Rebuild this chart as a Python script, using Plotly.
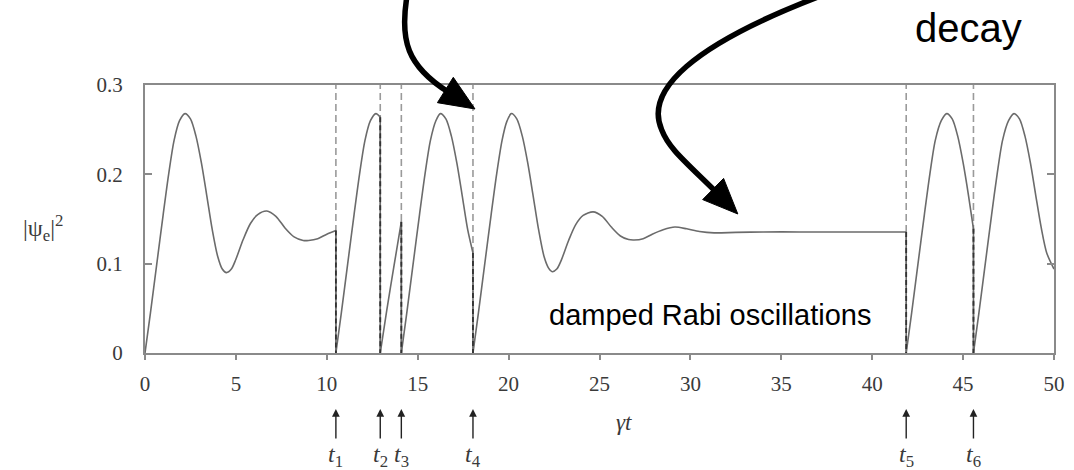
import plotly.graph_objects as go

# ---------------- data ----------------
jump_times = [10.5, 12.94, 14.1, 18.04, 41.87, 45.57]
jump_subs = ["1", "2", "3", "4", "5", "6"]

seg1_x = [0, 0.3, 0.65, 1.0, 1.3, 1.6, 1.9, 2.2, 2.5, 2.8, 3.1, 3.4, 3.7, 4.0, 4.25, 4.48, 4.75, 5.0,
          5.4, 5.8, 6.2, 6.7, 7.2, 7.7, 8.2, 8.7, 9.0, 9.5, 10.0, 10.5]
seg1_y = [0, 0.045, 0.100, 0.155, 0.200, 0.238, 0.260, 0.268, 0.262, 0.243, 0.213, 0.176, 0.138, 0.108,
          0.094, 0.090, 0.094, 0.105, 0.127, 0.145, 0.155, 0.159, 0.153, 0.140, 0.130, 0.126, 0.126,
          0.128, 0.133, 0.137]

seg2_x = [10.5, 10.8, 11.15, 11.5, 11.8, 12.1, 12.4, 12.7, 12.94]
seg2_y = [0, 0.045, 0.100, 0.155, 0.200, 0.238, 0.260, 0.268, 0.264]

seg3_x = [12.94, 13.3, 13.7, 14.1]
seg3_y = [0, 0.048, 0.098, 0.147]

seg4_x = [14.1, 14.4, 14.75, 15.1, 15.4, 15.7, 16.0, 16.25, 16.55, 16.85, 17.15, 17.45, 17.75, 18.04]
seg4_y = [0, 0.045, 0.100, 0.155, 0.200, 0.238, 0.260, 0.268, 0.262, 0.243, 0.213, 0.176, 0.138, 0.112]

seg5_x = [18.04, 18.34, 18.69, 19.04, 19.34, 19.64, 19.9, 20.15, 20.45, 20.75, 21.05, 21.35, 21.65,
          21.95, 22.2, 22.4, 22.65, 22.9, 23.3, 23.7, 24.1, 24.65, 25.15, 25.65, 26.15, 26.6, 26.9,
          27.4, 27.9, 28.5, 29.15, 29.8, 30.5, 31.3, 32.5, 34, 36, 38, 40, 41.87]
seg5_y = [0, 0.045, 0.100, 0.155, 0.200, 0.238, 0.259, 0.268, 0.262, 0.243, 0.213, 0.176, 0.138,
          0.108, 0.095, 0.091, 0.094, 0.104, 0.126, 0.144, 0.154, 0.158, 0.153, 0.141, 0.131, 0.127,
          0.1265, 0.128, 0.133, 0.138, 0.141, 0.139, 0.136, 0.1345, 0.135, 0.1355, 0.1355, 0.1355,
          0.1355, 0.1355]

seg6_x = [41.87, 42.17, 42.52, 42.87, 43.17, 43.47, 43.8, 44.1, 44.4, 44.7, 45.0, 45.3, 45.57]
seg6_y = [0, 0.045, 0.100, 0.155, 0.200, 0.238, 0.260, 0.268, 0.262, 0.243, 0.213, 0.176, 0.139]

seg7_x = [45.57, 45.87, 46.22, 46.57, 46.87, 47.17, 47.5, 47.8, 48.1, 48.4, 48.7, 49.0, 49.3, 49.6, 50]
seg7_y = [0, 0.045, 0.100, 0.155, 0.200, 0.238, 0.260, 0.268, 0.262, 0.243, 0.213, 0.176, 0.140,
          0.112, 0.094]

segments = [(seg1_x, seg1_y), (seg2_x, seg2_y), (seg3_x, seg3_y), (seg4_x, seg4_y),
            (seg5_x, seg5_y), (seg6_x, seg6_y), (seg7_x, seg7_y)]

x_ticks = [0, 5, 10, 15, 20, 25, 30, 35, 40, 45, 50]
y_ticks = [0, 0.1, 0.2, 0.3]
y_ticktext = ["0", "0.1", "0.2", "0.3"]

# ---------------- layout geometry ----------------
W, H = 1074, 470
PL, PR, PT, PB = 145, 1065, 85, 353


def px(x):
    return (x - PL) / (PR - PL)


def py(y):
    return (PB - y) / (PB - PT)


CURVE = "#6b6b6b"
FRAME = "#8a8a8a"
TXT = "#3a3a3a"
SERIF = "Liberation Serif"
SANS = "Liberation Sans"

fig = go.Figure()

# dashed jump markers
for t in jump_times:
    fig.add_trace(go.Scatter(x=[t, t], y=[0, 0.3], mode="lines",
                             line=dict(color="#9a9a9a", width=1.6, dash="7px,4px"),
                             hoverinfo="skip"))

# curve segments
for sx, sy in segments:
    fig.add_trace(go.Scatter(x=sx, y=sy, mode="lines", line_shape="spline",
                             line=dict(color=CURVE, width=1.6, smoothing=0.8),
                             hoverinfo="skip"))

# vertical drops at the jumps (end value of preceding segment -> 0)
drop_x, drop_y = [], []
for i, t in enumerate(jump_times):
    v = segments[i][1][-1]
    drop_x += [t, t, None]
    drop_y += [v, 0, None]
fig.add_trace(go.Scatter(x=drop_x, y=drop_y, mode="lines",
                         line=dict(color=CURVE, width=1.6), hoverinfo="skip"))
fig.add_trace(go.Scatter(x=drop_x, y=drop_y, mode="lines",
                         line=dict(color="#333333", width=1.8, dash="5px,3px"), hoverinfo="skip"))

annotations = []
# small arrows and t labels below axis
for t, sub in zip(jump_times, jump_subs):
    annotations.append(dict(x=t, y=py(409), xref="x", yref="paper", text="", showarrow=True,
                            arrowhead=2, arrowsize=1.1, arrowwidth=1.4, arrowcolor="#222",
                            ax=0, ay=31, axref="pixel", ayref="pixel"))
    annotations.append(dict(x=t, y=py(456), xref="x", yref="paper",
                            text="<i>t</i><sub>" + sub + "</sub>",
                            showarrow=False, xanchor="center", yanchor="middle",
                            font=dict(family=SERIF, size=24, color=TXT)))

# axis titles
annotations.append(dict(x=px(630), y=py(422), xref="paper", yref="paper", text="<i>γt</i>",
                        showarrow=False, xanchor="center", yanchor="middle",
                        font=dict(family=SERIF, size=23, color=TXT)))
annotations.append(dict(x=px(42), y=py(228), xref="paper", yref="paper",
                        text="|ψ<sub>e</sub>|<sup>2</sup>",
                        showarrow=False, xanchor="center", yanchor="middle",
                        font=dict(family=SERIF, size=24, color=TXT)))

# text labels
annotations.append(dict(x=px(552), y=py(315), xref="paper", yref="paper",
                        text="damped Rabi oscillations", showarrow=False,
                        xanchor="left", yanchor="middle",
                        font=dict(family=SANS, size=29, color="black")))
annotations.append(dict(x=px(978), y=py(28), xref="paper", yref="paper",
                        text="decay", showarrow=False,
                        xanchor="center", yanchor="middle",
                        font=dict(family=SANS, size=40, color="black")))


# curved thick arrows (pixel-space geometry converted to paper coords)
def path_str(cmds):
    out = []
    for c in cmds:
        if isinstance(c, str):
            out.append(c)
        else:
            out.append("%.5f,%.5f" % (px(c[0]), py(c[1])))
    return " ".join(out)


def head(tip, base, half_w):
    dx, dy = tip[0] - base[0], tip[1] - base[1]
    L = (dx * dx + dy * dy) ** 0.5
    nx, ny = -dy / L, dx / L
    c1 = (base[0] + nx * half_w, base[1] + ny * half_w)
    c2 = (base[0] - nx * half_w, base[1] - ny * half_w)
    return path_str(["M", tip, "L", c1, "L", c2, "Z"])


shapes = []
shapes.append(dict(type="path", xref="paper", yref="paper",
                   path=path_str(["M", (410, -3), "C", (403, 40), (410, 66), (452, 92)]),
                   line=dict(color="black", width=5.5)))
shapes.append(dict(type="path", xref="paper", yref="paper",
                   path=head((479, 109), (449, 90), 15), fillcolor="black",
                   line=dict(color="black", width=1)))
shapes.append(dict(type="path", xref="paper", yref="paper",
                   path=path_str(["M", (826, -3), "C", (700, 45), (650, 90), (668, 130),
                                  "C", (675, 148), (690, 160), (722, 191)]),
                   line=dict(color="black", width=5.5)))
shapes.append(dict(type="path", xref="paper", yref="paper",
                   path=head((745, 214), (720, 189), 15), fillcolor="black",
                   line=dict(color="black", width=1)))

fig.update_layout(
    width=W, height=H,
    margin=dict(l=PL, r=W - PR, t=PT, b=H - PB, pad=0),
    paper_bgcolor="white", plot_bgcolor="white",
    showlegend=False,
    annotations=annotations,
    shapes=shapes,
    xaxis=dict(range=[0, 50], tickvals=x_ticks, ticks="outside", ticklen=5, tickwidth=1.5,
               tickcolor=FRAME, showline=True, linecolor=FRAME, linewidth=2, mirror=True,
               showgrid=False, zeroline=False, ticklabelstandoff=6,
               tickfont=dict(family=SERIF, size=21, color=TXT)),
    yaxis=dict(range=[0, 0.3], tickvals=y_ticks, ticktext=y_ticktext, ticks="inside",
               ticklen=7, tickwidth=1.5, tickcolor=FRAME, showline=True, linecolor=FRAME,
               linewidth=2, mirror="allticks", showgrid=False, zeroline=False,
               ticklabelstandoff=16,
               tickfont=dict(family=SERIF, size=21, color=TXT)),
)

fig.write_html("out.html")
